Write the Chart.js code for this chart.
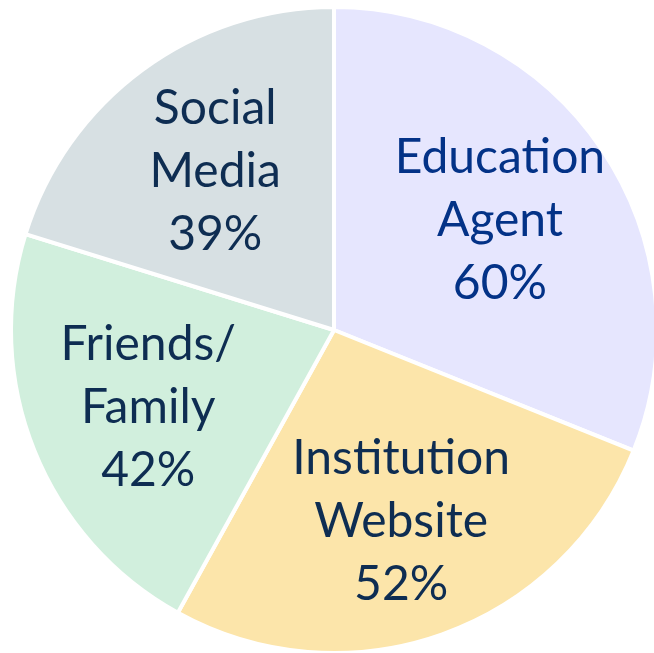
<!DOCTYPE html>
<html>
<head>
<meta charset="utf-8">
<script src="https://cdn.jsdelivr.net/npm/chart.js@4"></script>
<style>
  html,body{margin:0;padding:0;background:#fff;overflow:hidden}
  #wrap{width:660px;height:656px}
</style>
</head>
<body>
<div id="wrap"><canvas id="chart"></canvas></div>
<script>
// pie data
const labels = [['Education','Agent'], ['Institution','Website'], ['Friends/','Family'], ['Social','Media']];
const values = [60, 52, 42, 39];
const colors = ['#E6E6FE', '#FCE5AA', '#D1EFDD', '#D7E0E3'];
const textColors = ['#033287', '#0E2D52', '#0E2D52', '#0E2D52'];

// draws the label + percent inside each slice
const sliceLabels = {
  id:'sliceLabels',
  afterDatasetsDraw(chart){
    const ctx = chart.ctx;
    const meta = chart.getDatasetMeta(0);
    ctx.save();
    ctx.font = '48px Lato, "Open Sans", sans-serif';
    ctx.textAlign = 'center';
    ctx.textBaseline = 'middle';
    meta.data.forEach((arc,i)=>{
      const p = arc.getProps(['x','y','startAngle','endAngle','outerRadius'],true);
      const mid = (p.startAngle+p.endAngle)/2;
      const r = p.outerRadius*0.62;
      const cx = p.x + Math.cos(mid)*r;
      const cy = p.y + Math.sin(mid)*r + 3;
      const lines = labels[i].concat([values[i]+'%']);
      ctx.fillStyle = textColors[i];
      const lh = 63;
      lines.forEach((l,j)=>{
        ctx.fillText(l, cx, cy + (j-(lines.length-1)/2)*lh);
      });
    });
    ctx.restore();
  }
};

new Chart(document.getElementById('chart'),{
  type:'pie',
  data:{
    labels: labels.map(l=>l.join(' ')),
    datasets:[{data:values, backgroundColor:colors, borderColor:'#fff', borderWidth:4}]
  },
  options:{
    responsive:true,
    maintainAspectRatio:false,
    animation:false,
    layout:{padding:{left:9,right:1,top:5,bottom:1}},
    plugins:{legend:{display:false}, tooltip:{enabled:false}}
  },
  plugins:[sliceLabels]
});
</script>
</body>
</html>
